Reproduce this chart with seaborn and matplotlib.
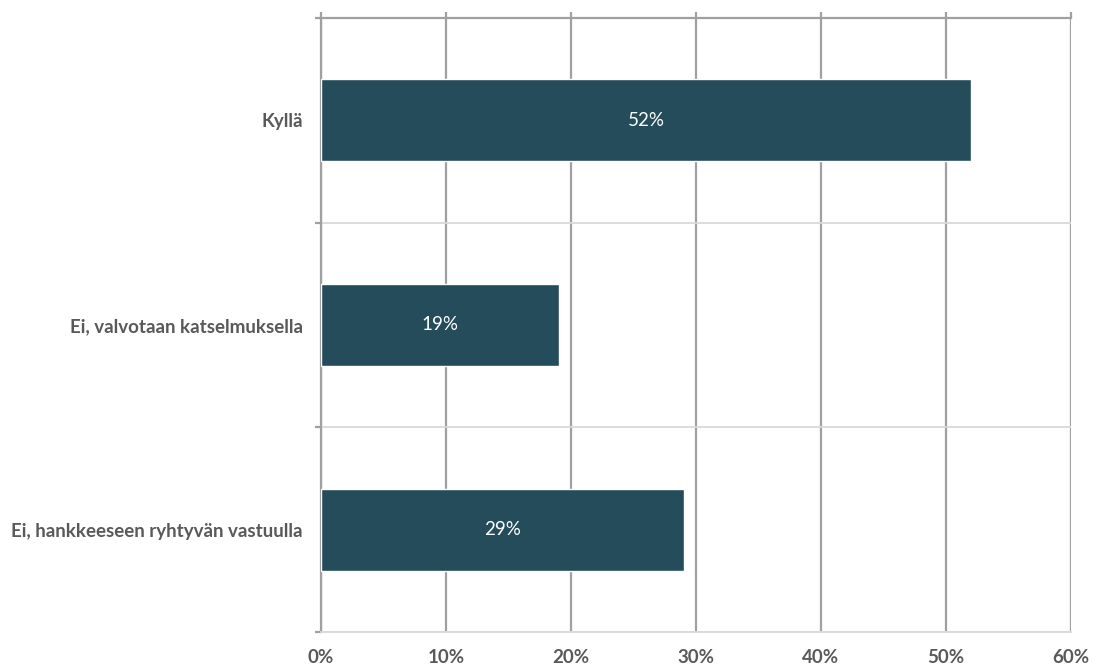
import matplotlib
matplotlib.use("Agg")
import matplotlib.pyplot as plt
import seaborn as sns
import pandas as pd
from matplotlib.ticker import FixedLocator, PercentFormatter

categories = ["Kyllä", "Ei, valvotaan katselmuksella", "Ei, hankkeeseen ryhtyvän vastuulla"]
values = [52, 19, 29]
x_ticks = [0, 10, 20, 30, 40, 50, 60]

sns.set_theme(style="white")
plt.rcParams['font.family'] = ['Lato', 'DejaVu Sans']

df = pd.DataFrame({"cat": categories, "val": values})

fig = plt.figure(figsize=(10.98, 6.68), dpi=100)
ax = fig.add_axes([321/1098, 1-632/668, 750/1098, 614/668])

sns.barplot(data=df, x="val", y="cat", orient="h", color="#244c5a",
            width=0.4, saturation=1, ax=ax, zorder=3)

ax.set_xlim(0, 60)
ax.set_ylim(2.5, -0.5)
ax.set_xticks(x_ticks)
ax.xaxis.set_major_formatter(PercentFormatter(decimals=0))

grid_col = "#a0a0a0"
light = "#d9d9d9"
ax.grid(axis="x", color=grid_col, linewidth=1.6, zorder=0)
ax.yaxis.set_minor_locator(FixedLocator([-0.5, 0.5, 1.5, 2.5]))
ax.grid(axis="y", which="minor", color=light, linewidth=1.3, zorder=0)

for s in ["right"]:
    ax.spines[s].set_visible(False)
ax.spines["top"].set_color(grid_col)
ax.spines["top"].set_linewidth(1.6)
ax.spines["left"].set_color(grid_col)
ax.spines["left"].set_linewidth(1.6)
ax.spines["bottom"].set_color(light)
ax.spines["bottom"].set_linewidth(1.3)

ax.tick_params(axis="x", which="major", top=True, bottom=False, labeltop=False,
               labelbottom=True, direction="out", length=4.5, width=1.6,
               color=grid_col, pad=7.5, labelsize=13.5, labelcolor="#595959")
ax.tick_params(axis="y", which="major", length=0, pad=13, labelsize=13.5,
               labelcolor="#595959")
ax.tick_params(axis="y", which="minor", left=True, length=4, width=1.6,
               color=grid_col)
for lab in ax.get_xticklabels() + ax.get_yticklabels():
    lab.set_fontweight("bold")

ax.set_xlabel("")
ax.set_ylabel("")

for i, v in enumerate(values):
    ax.text(v / 2, i, f"{v}%", ha="center", va="center", color="white",
            fontsize=13.5, zorder=4)

fig.savefig("out.png", dpi=100)
